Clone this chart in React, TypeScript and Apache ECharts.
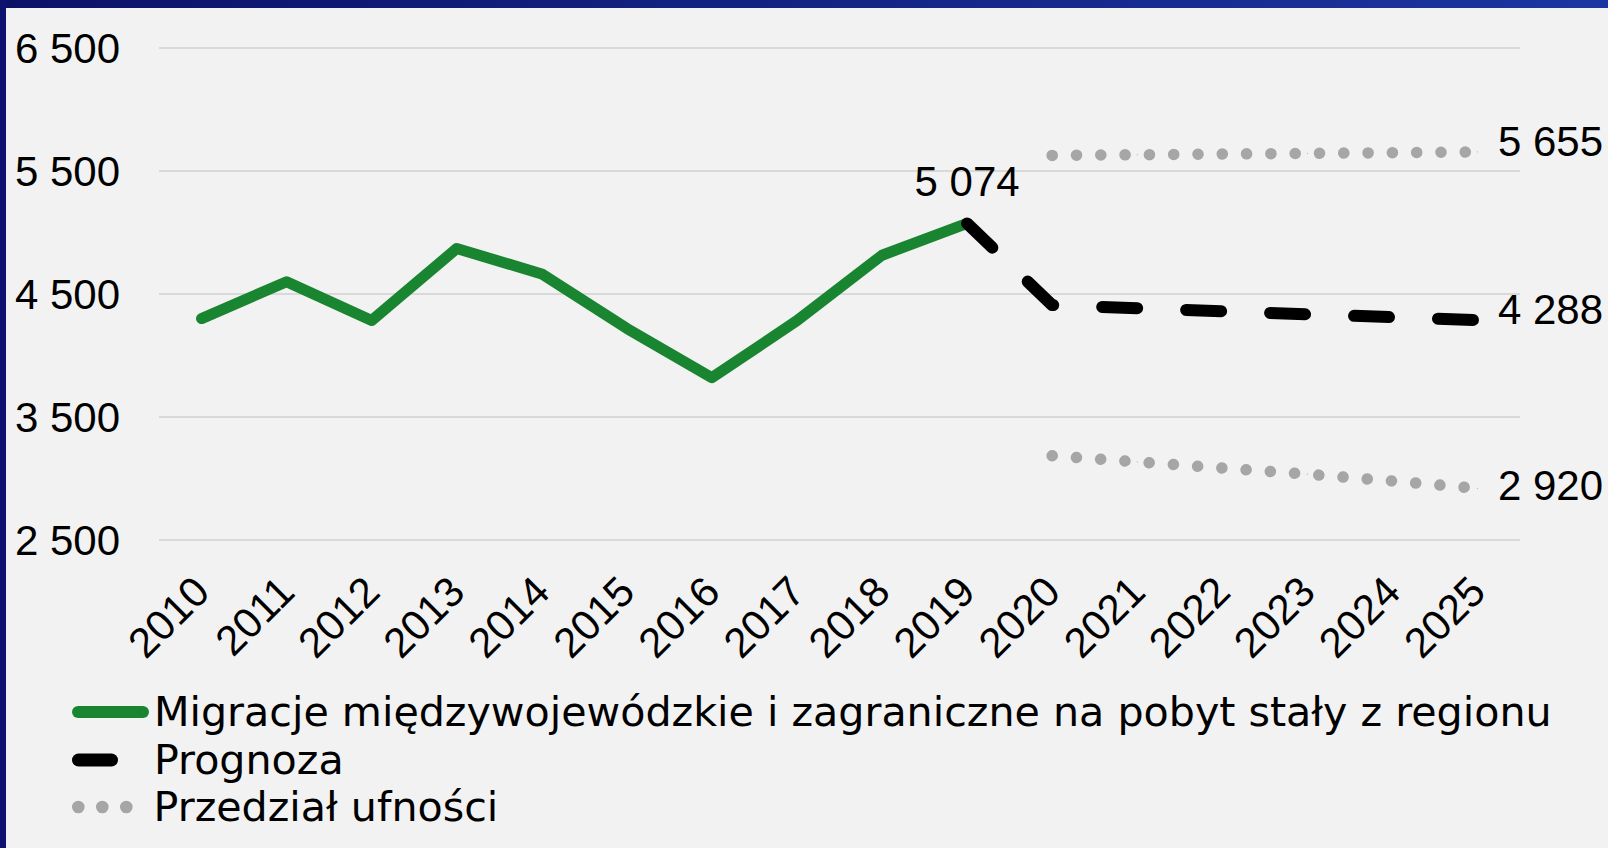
import React, { useEffect, useRef } from "react";
import * as echarts from "echarts";

const years = ["2010","2011","2012","2013","2014","2015","2016","2017","2018","2019","2020","2021","2022","2023","2024","2025"];
const historic = [4300, 4600, 4285, 4870, 4663, 4220, 3820, 4283, 4815, 5074];
const forecastYearsStart = 9; // index of 2019
const forecast = [5074, 4410, 4385, 4360, 4335, 4312, 4288];
const upperStart = 10; // index of 2020
const upper = [5627, 5632, 5638, 5643, 5649, 5655];
const lower = [3185, 3135, 3085, 3035, 2980, 2920];
const yTicks = [2500, 3500, 4500, 5500, 6500];

const NAME_HIST = "Migracje międzywojewódzkie i zagraniczne na pobyt stały z regionu";
const NAME_FC = "Prognoza";
const NAME_CI = "Przedział ufności";

const GREEN = "#1a8530";
const GRAY = "#a6a6a6";
const NUM_FONT = "Liberation Sans";
const TXT_FONT = "DejaVu Sans";

const fmt = (n: number) => String(n).replace(/\B(?=(\d{3})+(?!\d))/g, " ");

function pad(start: number, vals: number[]) {
  const out: (number | null)[] = years.map(() => null);
  vals.forEach((v, i) => (out[start + i] = v));
  return out;
}

function withLastLabel(arr: (number | null)[], idx: number, label: any) {
  return arr.map((v, i) => (i === idx && v != null ? { value: v, label } : v));
}

export default function App() {
  const ref = useRef<HTMLDivElement>(null);
  useEffect(() => {
    if (!ref.current) return;
    const chart = echarts.init(ref.current, undefined, { renderer: "svg" });
    const numLabel = {
      show: true,
      color: "#000",
      fontFamily: NUM_FONT,
      fontSize: 42,
      formatter: (p: any) => fmt(p.value),
    };
    const histData = withLastLabel(pad(0, historic), historic.length - 1, {
      ...numLabel,
      position: "top",
      distance: 20,
    });
    const last = years.length - 1;
    const fcData = withLastLabel(pad(forecastYearsStart, forecast), last, {
      ...numLabel,
      position: "right",
      distance: 20,
      offset: [0, -11],
    });
    const upData = withLastLabel(pad(upperStart, upper), last, {
      ...numLabel,
      position: "right",
      distance: 20,
      offset: [0, -10],
    });
    const loData = withLastLabel(pad(upperStart, lower), last, {
      ...numLabel,
      position: "right",
      distance: 20,
      offset: [0, -3],
    });

    const pill = (w: number, h: number) => {
      const r = h / 2;
      return `path://M${r},0 H${w - r} A${r},${r} 0 0 1 ${w - r},${h} H${r} A${r},${r} 0 0 1 ${r},0 Z`;
    };
    const dots = "path://M0,6.3a6.3,6.3 0 1,0 12.6,0a6.3,6.3 0 1,0 -12.6,0 M24,6.3a6.3,6.3 0 1,0 12.6,0a6.3,6.3 0 1,0 -12.6,0 M48,6.3a6.3,6.3 0 1,0 12.6,0a6.3,6.3 0 1,0 -12.6,0 Z";

    const legendBase = {
      orient: "vertical" as const,
      selectedMode: false,
      padding: 0,
      left: 72,
      textStyle: { color: "#000", fontFamily: TXT_FONT, fontSize: 41.2 },
    };

    chart.setOption({
      animation: false,
      backgroundColor: "#f2f2f2",
      grid: { left: 159, right: 88, top: 48, bottom: 308, containLabel: false },
      xAxis: {
        type: "category",
        data: years,
        boundaryGap: true,
        axisLine: { show: false },
        axisTick: { show: false },
        axisLabel: {
          rotate: 45,
          margin: 44,
          color: "#000",
          fontFamily: NUM_FONT,
          fontSize: 42,
          interval: 0,
        },
      },
      yAxis: {
        type: "value",
        min: 2500,
        max: 6500,
        interval: 500,
        axisLine: { show: false },
        axisTick: { show: false },
        splitLine: { lineStyle: { color: ["#d9d9d9", "rgba(0,0,0,0)"], width: 2 } },
        axisLabel: {
          margin: 39,
          color: "#000",
          fontFamily: NUM_FONT,
          fontSize: 42,
          formatter: (v: number) => (yTicks.includes(v) ? fmt(v) : ""),
        },
      },
      legend: [
        {
          ...legendBase,
          top: 712 - 20.5,
          itemWidth: 77,
          itemHeight: 12,
          data: [{ name: NAME_HIST, icon: pill(77, 12), itemStyle: { color: GREEN, borderWidth: 0 } }],
        },
        {
          ...legendBase,
          top: 760 - 20.5,
          itemWidth: 46,
          itemHeight: 13,
          textStyle: { ...legendBase.textStyle, padding: [0, 0, 0, 31] },
          data: [{ name: NAME_FC, icon: pill(46, 13), itemStyle: { color: "#000", borderWidth: 0 } }],
        },
        {
          ...legendBase,
          top: 807 - 20.5,
          itemWidth: 60.6,
          itemHeight: 12.6,
          textStyle: { ...legendBase.textStyle, padding: [0, 0, 0, 16] },
          data: [{ name: NAME_CI, icon: dots, itemStyle: { color: GRAY, borderWidth: 0 } }],
        },
      ],
      series: [
        {
          name: NAME_HIST,
          type: "line",
          data: histData,
          color: GREEN,
          symbol: "circle",
          symbolSize: 1,
          showSymbol: true,
          itemStyle: { color: GREEN },
          lineStyle: { color: GREEN, width: 11, cap: "round", join: "round" },
          emphasis: { disabled: true },
          z: 3,
        },
        {
          name: NAME_FC,
          type: "line",
          data: fcData,
          color: "#000",
          symbol: "circle",
          symbolSize: 1,
          showSymbol: true,
          itemStyle: { color: "#000" },
          lineStyle: { color: "#000", width: 12, type: [35, 49], cap: "round", join: "round" },
          emphasis: { disabled: true },
          z: 4,
        },
        {
          name: NAME_CI,
          type: "line",
          data: upData,
          color: GRAY,
          symbol: "circle",
          symbolSize: 1,
          showSymbol: true,
          itemStyle: { color: GRAY },
          lineStyle: { color: GRAY, width: 11.5, type: [0.1, 24.2], cap: "round" },
          emphasis: { disabled: true },
        },
        {
          name: NAME_CI,
          type: "line",
          data: loData,
          color: GRAY,
          symbol: "circle",
          symbolSize: 1,
          showSymbol: true,
          itemStyle: { color: GRAY },
          lineStyle: { color: GRAY, width: 11.5, type: [0.1, 24.2], cap: "round" },
          emphasis: { disabled: true },
        },
      ],
      graphic: [
        {
          type: "rect",
          z: 100,
          shape: { x: 0, y: 0, width: 1608, height: 8 },
          style: {
            fill: new echarts.graphic.LinearGradient(0, 0, 1, 0, [
              { offset: 0, color: "#0c1168" },
              { offset: 1, color: "#1b36a0" },
            ]),
          },
        },
        {
          type: "rect",
          z: 100,
          shape: { x: 0, y: 0, width: 6, height: 848 },
          style: { fill: "#0d1270" },
        },
      ],
    });
    return () => chart.dispose();
  }, []);
  return (
    <div style={{ position: "absolute", left: 0, top: 0, width: 1608, height: 848, background: "#f2f2f2" }}>
      <div ref={ref} style={{ width: 1608, height: 848 }} />
    </div>
  );
}
